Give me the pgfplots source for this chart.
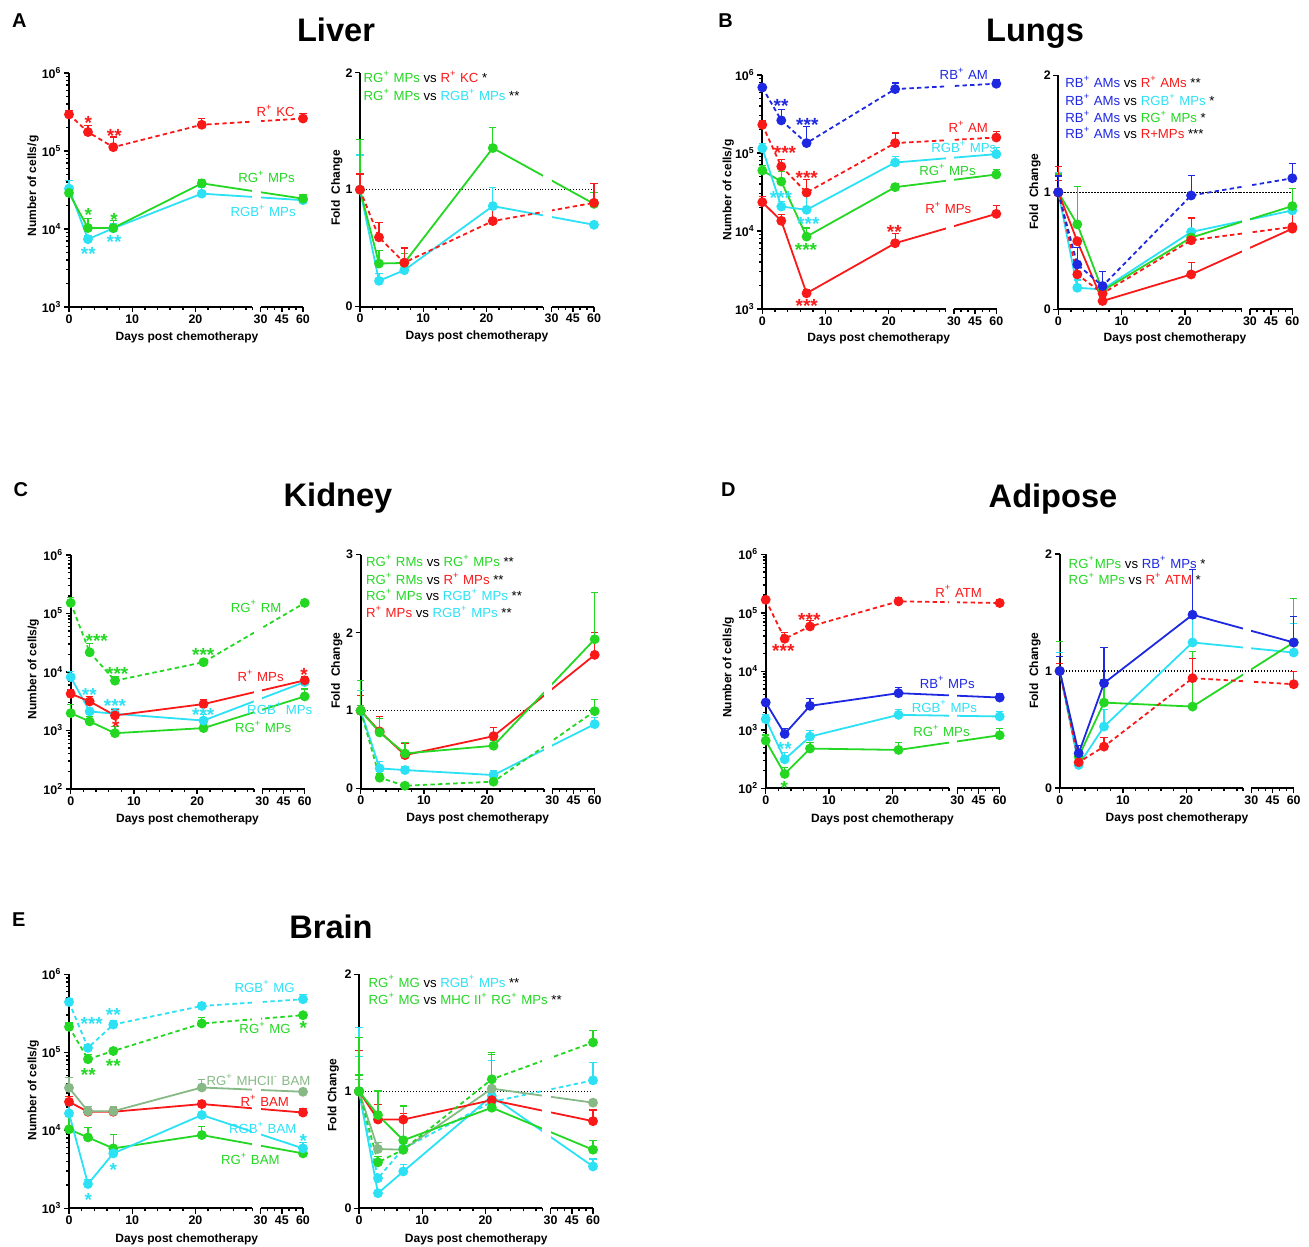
\documentclass[border=0pt]{standalone}
\usepackage{fontspec}
\setmainfont{Liberation Sans}
\usepackage{pgfplots}
\pgfplotsset{compat=1.18}
\definecolor{cR}{RGB}{250,25,25}
\definecolor{cG}{RGB}{35,215,35}
\definecolor{cC}{RGB}{45,225,245}
\definecolor{cB}{RGB}{30,40,225}
\definecolor{cS}{RGB}{135,185,135}
\newcommand\tickf{\fontsize{6.2}{7}\selectfont\bfseries}
\newcommand\labf{\fontsize{6}{7}\selectfont\bfseries}
\newcommand\serf{\fontsize{6.6}{7.5}\selectfont}
\newcommand\astf{\fontsize{9.5}{10}\selectfont\bfseries}
\newcommand\titf{\fontsize{16.3}{18}\selectfont\bfseries}
\newcommand\letf{\fontsize{10}{12}\selectfont\bfseries}
\newcommand\p{\textsuperscript{+}}
\newcommand\gapx{%
\fill[white] (rel axis cs:0.7838,0.004) rectangle (rel axis cs:0.8189,1.01);
\draw[line width=0.9pt] (rel axis cs:-0.002,0) -- (rel axis cs:0.7838,0);
\draw[line width=0.9pt] (rel axis cs:0.8189,0) -- (rel axis cs:1.002,0);}
\newcommand\dotl{\draw[black, line width=0.6pt, dash pattern=on 0.6pt off 0.9pt] (axis cs:0,1) -- (axis cs:37,1);}
\newcommand\dotg{\draw[black, line width=0.6pt, dash pattern=on 0.6pt off 0.9pt] (axis cs:28.8,1) -- (axis cs:30.5,1);}
\pgfplotsset{
 pbase/.style={/pgfplots/scale only axis, /pgfplots/width=117pt, /pgfplots/height=117pt,
   /pgfplots/xmin=0, /pgfplots/xmax=37, /pgfplots/clip=false,
   /pgfplots/axis x line*=bottom, /pgfplots/axis y line*=left,
   /pgfplots/x axis line style={draw=none}, /pgfplots/y axis line style={line width=0.9pt,-},
   /pgfplots/tick align=outside, /pgfplots/major tick length=2.6pt, /pgfplots/minor tick length=1.5pt,
   /pgfplots/tick style={black, line width=0.7pt},
   /pgfplots/xtick={0,10,20,30.3,33.65,37}, /pgfplots/xticklabels={0,10,20,30,45,60},
   /pgfplots/minor xtick={2,4,6,8,12,14,16,18,22,24,26,28,29,31.42,32.53,34.77,35.88},
   /pgfplots/xticklabel style={font=\tickf, inner sep=1pt},
   /pgfplots/yticklabel style={font=\tickf, inner sep=1pt}},
 sl/.style={/pgfplots/error bars/y dir=plus, /pgfplots/error bars/y explicit,
   /pgfplots/error bars/error bar style={solid, line width=0.6pt},
   /pgfplots/error bars/error mark options={rotate=90, solid, line width=0.6pt, mark size=1.8pt},
   mark=*, mark size=2pt, mark options={solid}, line width=0.9pt},
 dl/.style={sl, dash pattern=on 2.2pt off 1.6pt},
}
\tikzset{
 lab/.style={anchor=base east, font=\serf, inner sep=0pt},
 cmp/.style={anchor=base west, font=\serf, inner sep=0pt},
 ast/.style={anchor=base, font=\astf, inner sep=0pt, yshift=-5.6pt},
 yl/.style={rotate=90, font=\labf, inner sep=0pt},
 xl/.style={font=\labf, inner sep=0pt},
 tit/.style={anchor=base, font=\titf, inner sep=0pt},
 let/.style={anchor=base west, font=\letf, inner sep=0pt},
}
\begin{document}
\begin{tikzpicture}
\path[use as bounding box] (0,0) rectangle (654.5pt,-623pt);
% ---------------- Liver left
\begin{axis}[at={(34.5pt,-153.5pt)}, anchor=south west, ymode=log, ymin=1e3, ymax=1e6,
   ytick={1e3,1e4,1e5,1e6},
   yticklabels={10\textsuperscript{3},10\textsuperscript{4},10\textsuperscript{5},10\textsuperscript{6}},
   minor ytick={2e3,3e3,4e3,5e3,6e3,7e3,8e3,9e3,2e4,3e4,4e4,5e4,6e4,7e4,8e4,9e4,2e5,3e5,4e5,5e5,6e5,7e5,8e5,9e5}, pbase]
\addplot[sl,color=cC] coordinates {(0,3.30e4) +- (0,0.9e4) (3,7.4e3) +- (0,0.9e3) (7,1.02e4) +- (0,0.15e4) (21,2.84e4) +- (0,0.6e4) (37,2.34e4) +- (0,0.2e4)};
\addplot[sl,color=cG] coordinates {(0,2.90e4) +- (0,0.42e4) (3,1.03e4) +- (0,0.33e4) (7,1.03e4) +- (0,0.26e4) (21,3.85e4) +- (0,0.48e4) (37,2.45e4) +- (0,0.34e4)};
\addplot[dl,color=cR] coordinates {(0,2.94e5) +- (0,0.36e5) (3,1.75e5) +- (0,0.37e5) (7,1.12e5) +- (0,0.39e5) (21,2.17e5) +- (0,0.42e5) (37,2.61e5) +- (0,0.44e5)};
\gapx
\end{axis}
% ---------------- Liver right
\begin{axis}[at={(180pt,-153.35pt)}, anchor=south west, ymin=0, ymax=2, ytick={0,1,2}, yticklabels={0,1,2}, pbase]
\dotl
\addplot[sl,color=cC] coordinates {(0,1) +- (0,0.297) (3,0.221) +- (0,0.063) (7,0.312) +- (0,0.02) (21,0.86) +- (0,0.16) (37,0.70) +- (0,0.02)};
\addplot[sl,color=cG] coordinates {(0,1) +- (0,0.427) (3,0.369) +- (0,0.108) (7,0.374) +- (0,0.08) (21,1.356) +- (0,0.176) (37,0.879) +- (0,0.094)};
\addplot[dl,color=cR] coordinates {(0,1) +- (0,0.135) (3,0.593) +- (0,0.13) (7,0.377) +- (0,0.125) (21,0.732) +- (0,0.147) (37,0.888) +- (0,0.162)};
\gapx
\dotg
\end{axis}
% ---------------- Lungs left
\begin{axis}[at={(381.15pt,-154.5pt)}, anchor=south west, ymode=log, ymin=1e3, ymax=1e6,
   ytick={1e3,1e4,1e5,1e6},
   yticklabels={10\textsuperscript{3},10\textsuperscript{4},10\textsuperscript{5},10\textsuperscript{6}},
   minor ytick={2e3,3e3,4e3,5e3,6e3,7e3,8e3,9e3,2e4,3e4,4e4,5e4,6e4,7e4,8e4,9e4,2e5,3e5,4e5,5e5,6e5,7e5,8e5,9e5}, pbase]
\addplot[sl,color=cR] coordinates {(0,2.34e4) +- (0,0.43e4) (3,1.35e4) +- (0,0.29e4) (7,1.59e3) +- (0,0.2e3) (21,6.97e3) +- (0,2.39e3) (37,1.66e4) +- (0,0.46e4)};
\addplot[sl,color=cG] coordinates {(0,5.97e4) +- (0,0.95e4) (3,4.31e4) +- (0,1.48e4) (7,8.48e3) +- (0,2.42e3) (21,3.65e4) +- (0,0.45e4) (37,5.3e4) +- (0,0.91e4)};
\addplot[sl,color=cC] coordinates {(0,1.15e5) +- (0,0.16e5) (3,2.06e4) +- (0,0.33e4) (7,1.87e4) +- (0,1.04e4) (21,7.55e4) +- (0,1.48e4) (37,9.67e4) +- (0,2.23e4)};
\addplot[dl,color=cR] coordinates {(0,2.30e5) +- (0,0.27e5) (3,6.71e4) +- (0,1.63e4) (7,3.11e4) +- (0,1.42e4) (21,1.34e5) +- (0,0.46e5) (37,1.58e5) +- (0,0.31e5)};
\addplot[dl,color=cB] coordinates {(0,6.93e5) +- (0,0.6e5) (3,2.62e5) +- (0,0.97e5) (7,1.34e5) +- (0,0.85e5) (21,6.6e5) +- (0,1.3e5) (37,7.73e5) +- (0,0.97e5)};
\gapx
\end{axis}
% ---------------- Lungs right
\begin{axis}[at={(529.15pt,-154.65pt)}, anchor=south west, ymin=0, ymax=2, ytick={0,1,2}, yticklabels={0,1,2}, pbase]
\dotl
\addplot[sl,color=cC] coordinates {(0,1) +- (0,0.17) (3,0.184) +- (0,0.066) (7,0.17) +- (0,0.01) (21,0.661) +- (0,0.122) (37,0.845) +- (0,0.043)};
\addplot[sl,color=cG] coordinates {(0,1) +- (0,0.157) (3,0.726) +- (0,0.324) (7,0.159) +- (0,0.01) (21,0.613) +- (0,0.062) (37,0.882) +- (0,0.148)};
\addplot[sl,color=cR] coordinates {(0,1) +- (0,0.1) (3,0.582) +- (0,0.02) (7,0.071) +- (0,0.01) (21,0.298) +- (0,0.099) (37,0.689) +- (0,0.141)};
\addplot[dl,color=cR] coordinates {(0,1) +- (0,0.22) (3,0.298) +- (0,0.065) (7,0.136) +- (0,0.02) (21,0.59) +- (0,0.19) (37,0.704) +- (0,0.126)};
\addplot[dl,color=cB] coordinates {(0,1) +- (0,0.14) (3,0.383) +- (0,0.145) (7,0.199) +- (0,0.121) (21,0.973) +- (0,0.17) (37,1.12) +- (0,0.128)};
\gapx
\dotg
\end{axis}
% ---------------- Kidney left
\begin{axis}[at={(35.35pt,-394.5pt)}, anchor=south west, ymode=log, ymin=1e2, ymax=1e6,
   ytick={1e2,1e3,1e4,1e5,1e6},
   yticklabels={10\textsuperscript{2},10\textsuperscript{3},10\textsuperscript{4},10\textsuperscript{5},10\textsuperscript{6}},
   minor ytick={2e2,3e2,4e2,5e2,6e2,7e2,8e2,9e2,2e3,3e3,4e3,5e3,6e3,7e3,8e3,9e3,2e4,3e4,4e4,5e4,6e4,7e4,8e4,9e4,2e5,3e5,4e5,5e5,6e5,7e5,8e5,9e5}, pbase]
\addplot[sl,color=cG] coordinates {(0,1.98e3) +- (0,0.78e3) (3,1.43e3) +- (0,0.31e3) (7,9.0e2) +- (0,2.7e2) (21,1.10e3) +- (0,0.15e3) (37,3.83e3) +- (0,1.28e3)};
\addplot[sl,color=cC] coordinates {(0,8.2e3) +- (0,2.1e3) (3,2.12e3) +- (0,0.2e3) (7,1.93e3) +- (0,0.45e3) (21,1.48e3) +- (0,0.38e3) (37,6.74e3) +- (0,0.85e3)};
\addplot[sl,color=cR] coordinates {(0,4.25e3) +- (0,0.73e3) (3,3.14e3) +- (0,0.69e3) (7,1.81e3) +- (0,0.51e3) (21,2.83e3) +- (0,0.53e3) (37,7.2e3) +- (0,1.23e3)};
\addplot[dl,color=cG] coordinates {(0,1.52e5) +- (0,0.34e5) (3,2.17e4) +- (0,0.89e4) (7,7.1e3) +- (0,1.33e3) (21,1.47e4) +- (0,0.16e4) (37,1.52e5) +- (0,0.22e5)};
\gapx
\end{axis}
% ---------------- Kidney right
\begin{axis}[at={(180.35pt,-394.35pt)}, anchor=south west, ymin=0, ymax=3, ytick={0,1,2,3}, yticklabels={0,1,2,3}, pbase]
\dotl
\addplot[sl,color=cC] coordinates {(0,1) +- (0,0.255) (3,0.26) +- (0,0.086) (7,0.239) +- (0,0.04) (21,0.175) +- (0,0.055) (37,0.828) +- (0,0.09)};
\addplot[dl,color=cG] coordinates {(0,1) +- (0,0.07) (3,0.141) +- (0,0.047) (7,0.038) +- (0,0.01) (21,0.09) +- (0,0.02) (37,0.994) +- (0,0.15)};
\addplot[sl,color=cR] coordinates {(0,1) +- (0,0.2) (3,0.734) +- (0,0.19) (7,0.431) +- (0,0.15) (21,0.674) +- (0,0.11) (37,1.716) +- (0,0.29)};
\addplot[sl,color=cG] coordinates {(0,1) +- (0,0.383) (3,0.721) +- (0,0.18) (7,0.452) +- (0,0.137) (21,0.551) +- (0,0.07) (37,1.916) +- (0,0.6)};
\gapx
\dotg
\end{axis}
% ---------------- Adipose left
\begin{axis}[at={(382.85pt,-394.15pt)}, anchor=south west, ymode=log, ymin=1e2, ymax=1e6,
   ytick={1e2,1e3,1e4,1e5,1e6},
   yticklabels={10\textsuperscript{2},10\textsuperscript{3},10\textsuperscript{4},10\textsuperscript{5},10\textsuperscript{6}},
   minor ytick={2e2,3e2,4e2,5e2,6e2,7e2,8e2,9e2,2e3,3e3,4e3,5e3,6e3,7e3,8e3,9e3,2e4,3e4,4e4,5e4,6e4,7e4,8e4,9e4,2e5,3e5,4e5,5e5,6e5,7e5,8e5,9e5}, pbase]
\addplot[sl,color=cG] coordinates {(0,6.55e2) +- (0,1.63e2) (3,1.76e2) +- (0,0.5e2) (7,4.78e2) +- (0,1.27e2) (21,4.53e2) +- (0,1.52e2) (37,8.08e2) +- (0,2.52e2)};
\addplot[sl,color=cC] coordinates {(0,1.52e3) +- (0,0.28e3) (3,3.13e2) +- (0,0.95e2) (7,7.66e2) +- (0,2.04e2) (21,1.8e3) +- (0,0.39e3) (37,1.69e3) +- (0,0.36e3)};
\addplot[sl,color=cB] coordinates {(0,2.93e3) +- (0,0.32e3) (3,8.51e2) +- (0,2.1e2) (7,2.57e3) +- (0,0.9e3) (21,4.23e3) +- (0,1.13e3) (37,3.56e3) +- (0,0.67e3)};
\addplot[dl,color=cR] coordinates {(0,1.67e5) +- (0,0.15e5) (3,3.6e4) +- (0,1.02e4) (7,5.85e4) +- (0,1.56e4) (21,1.57e5) +- (0,0.27e5) (37,1.47e5) +- (0,0.2e5)};
\gapx
\end{axis}
% ---------------- Adipose right
\begin{axis}[at={(529.85pt,-394pt)}, anchor=south west, ymin=0, ymax=2, ytick={0,1,2}, yticklabels={0,1,2}, pbase]
\dotl
\addplot[sl,color=cC] coordinates {(0,1) +- (0,0.158) (3,0.197) +- (0,0.071) (7,0.525) +- (0,0.143) (21,1.244) +- (0,0.208) (37,1.158) +- (0,0.246)};
\addplot[sl,color=cG] coordinates {(0,1) +- (0,0.25) (3,0.268) +- (0,0.03) (7,0.73) +- (0,0.194) (21,0.696) +- (0,0.471) (37,1.244) +- (0,0.376)};
\addplot[dl,color=cR] coordinates {(0,1) +- (0,0.067) (3,0.22) +- (0,0.02) (7,0.354) +- (0,0.08) (21,0.939) +- (0,0.171) (37,0.887) +- (0,0.109)};
\addplot[sl,color=cB] coordinates {(0,1) +- (0,0.124) (3,0.297) +- (0,0.063) (7,0.896) +- (0,0.308) (21,1.481) +- (0,0.385) (37,1.244) +- (0,0.222)};
\gapx
\dotg
\end{axis}
% ---------------- Brain left
\begin{axis}[at={(34.5pt,-604.15pt)}, anchor=south west, ymode=log, ymin=1e3, ymax=1e6,
   ytick={1e3,1e4,1e5,1e6},
   yticklabels={10\textsuperscript{3},10\textsuperscript{4},10\textsuperscript{5},10\textsuperscript{6}},
   minor ytick={2e3,3e3,4e3,5e3,6e3,7e3,8e3,9e3,2e4,3e4,4e4,5e4,6e4,7e4,8e4,9e4,2e5,3e5,4e5,5e5,6e5,7e5,8e5,9e5}, pbase]
\addplot[sl,color=cG] coordinates {(0,1.03e4) +- (0,0.46e4) (3,8.11e3) +- (0,2.69e3) (7,5.87e3) +- (0,2.99e3) (21,8.69e3) +- (0,2.41e3) (37,5.06e3) +- (0,0.63e3)};
\addplot[sl,color=cC] coordinates {(0,1.65e4) +- (0,0.45e4) (3,2.05e3) +- (0,0.3e3) (7,5.06e3) +- (0,0.5e3) (21,1.57e4) +- (0,0.64e4) (37,5.87e3) +- (0,1.06e3)};
\addplot[sl,color=cR] coordinates {(0,2.32e4) +- (0,0.37e4) (3,1.73e4) +- (0,0.27e4) (7,1.73e4) +- (0,0.2e4) (21,2.17e4) +- (0,0.27e4) (37,1.69e4) +- (0,0.22e4)};
\addplot[sl,color=cS] coordinates {(0,3.51e4) +- (0,1.2e4) (3,1.76e4) +- (0,0.24e4) (7,1.76e4) +- (0,0.24e4) (21,3.54e4) +- (0,0.99e4) (37,3.12e4) +- (0,0.1e4)};
\addplot[dl,color=cG] coordinates {(0,2.12e5) +- (0,0.26e5) (3,8.16e4) +- (0,1.3e4) (7,1.04e5) +- (0,0.05e5) (21,2.34e5) +- (0,0.45e5) (37,2.99e5) +- (0,0.1e5)};
\addplot[dl,color=cC] coordinates {(0,4.42e5) +- (0,0.46e5) (3,1.14e5) +- (0,0.13e5) (7,2.27e5) +- (0,0.26e5) (21,3.93e5) +- (0,0.37e5) (37,4.79e5) +- (0,0.71e5)};
\gapx
\end{axis}
% ---------------- Brain right
\begin{axis}[at={(179.5pt,-604.15pt)}, anchor=south west, ymin=0, ymax=2, ytick={0,1,2}, yticklabels={0,1,2}, pbase]
\dotl
\addplot[sl,color=cC] coordinates {(0,1) +- (0,0.3) (3,0.129) +- (0,0.02) (7,0.315) +- (0,0.057) (21,0.96) +- (0,0.3) (37,0.358) +- (0,0.063)};
\addplot[dl,color=cC] coordinates {(0,1) +- (0,0.547) (3,0.258) +- (0,0.03) (7,0.51) +- (0,0.03) (21,0.91) +- (0,0.05) (37,1.094) +- (0,0.152)};
\addplot[sl,color=cS] coordinates {(0,1) +- (0,0.1) (3,0.507) +- (0,0.053) (7,0.501) +- (0,0.03) (21,1.023) +- (0,0.05) (37,0.903) +- (0,0.02)};
\addplot[sl,color=cR] coordinates {(0,1) +- (0,0.347) (3,0.759) +- (0,0.129) (7,0.759) +- (0,0.051) (21,0.925) +- (0,0.065) (37,0.745) +- (0,0.095)};
\addplot[sl,color=cG] coordinates {(0,1) +- (0,0.14) (3,0.797) +- (0,0.206) (7,0.582) +- (0,0.292) (21,0.86) +- (0,0.472) (37,0.501) +- (0,0.081)};
\addplot[dl,color=cG] coordinates {(0,1) +- (0,0.46) (3,0.393) +- (0,0.05) (7,0.501) +- (0,0.05) (21,1.103) +- (0,0.215) (37,1.418) +- (0,0.101)};
\gapx
\dotg
\end{axis}
% ---------------- annotations (pixel coordinates)
\begin{scope}[x=0.5pt,y=-0.5pt]
\node[let] at (11.7,27.3) {A};
\node[let] at (718,27.3) {B};
\node[let] at (13.3,496) {C};
\node[let] at (720.7,496) {D};
\node[let] at (11.7,926.7) {E};
\node[tit] at (336,41.7) {Liver};
\node[tit] at (1035,41.7) {Lungs};
\node[tit] at (338,506.7) {Kidney};
\node[tit] at (1053,507.3) {Adipose};
\node[tit] at (331,938.3) {Brain};
% axis labels
\node[yl] at (33,186) {Number of cells/g};
\node[xl] at (187,337.3) {Days post chemotherapy};
\node[yl] at (336.7,188) {Fold\ \ Change};
\node[xl] at (477,336.7) {Days post chemotherapy};
\node[yl] at (728.3,190) {Number of cells/g};
\node[xl] at (878.8,338.3) {Days post chemotherapy};
\node[yl] at (1035,191.7) {Fold\ \ Change};
\node[xl] at (1175,338.3) {Days post chemotherapy};
\node[yl] at (33.3,669) {Number of cells/g};
\node[xl] at (187.5,819.3) {Days post chemotherapy};
\node[yl] at (336.7,670.8) {Fold\ \ Change};
\node[xl] at (477.8,818.3) {Days post chemotherapy};
\node[yl] at (728.3,667.5) {Number of cells/g};
\node[xl] at (882.5,819.3) {Days post chemotherapy};
\node[yl] at (1035,670.8) {Fold\ \ Change};
\node[xl] at (1177,818.3) {Days post chemotherapy};
\node[yl] at (33.3,1090) {Number of cells/g};
\node[xl] at (186.7,1239.3) {Days post chemotherapy};
\node[yl] at (333.3,1095) {Fold Change};
\node[xl] at (476.3,1239.3) {Days post chemotherapy};
% Liver series labels
\node[lab,text=cR] at (295,116.4) {R\p{} KC};
\node[lab,text=cG] at (295,182.4) {RG\p{} MPs};
\node[lab,text=cC] at (296,216.4) {RGB\p{} MPs};
\node[ast,text=cR] at (88.3,118.3) {*};
\node[ast,text=cR] at (114.3,131.7) {**};
\node[ast,text=cG] at (88.3,210.7) {*};
\node[ast,text=cG] at (114,215.7) {*};
\node[ast,text=cC] at (88.3,249.3) {**};
\node[ast,text=cC] at (114,237.7) {**};
\node[cmp] at (363.3,83) {\textcolor{cG}{RG\p{} MPs} vs \textcolor{cR}{R\p{} KC} *};
\node[cmp] at (363.3,100.7) {\textcolor{cG}{RG\p{} MPs} vs \textcolor{cC}{RGB\p{} MPs} **};
% Lungs
\node[lab,text=cB] at (988.3,79.7) {RB\p{} AM};
\node[lab,text=cR] at (988.3,133) {R\p{} AM};
\node[lab,text=cC] at (996.7,153) {RGB\p{} MPs};
\node[lab,text=cG] at (976,175.7) {RG\p{} MPs};
\node[lab,text=cR] at (971.7,213.7) {R\p{} MPs};
\node[ast,text=cB] at (781,101.7) {**};
\node[ast,text=cB] at (807.3,120.7) {***};
\node[ast,text=cR] at (785,148.3) {***};
\node[ast,text=cR] at (806.7,173.3) {***};
\node[ast,text=cC] at (781,193.3) {***};
\node[ast,text=cC] at (808.3,219) {***};
\node[ast,text=cG] at (806,245.7) {***};
\node[ast,text=cR] at (806.7,301.7) {***};
\node[ast,text=cR] at (894.3,227.7) {**};
\node[cmp] at (1065,88) {\textcolor{cB}{RB\p{} AMs} vs \textcolor{cR}{R\p{} AMs} **};
\node[cmp] at (1065,105.7) {\textcolor{cB}{RB\p{} AMs} vs \textcolor{cC}{RGB\p{} MPs} *};
\node[cmp] at (1065,123) {\textcolor{cB}{RB\p{} AMs} vs \textcolor{cG}{RG\p{} MPs} *};
\node[cmp] at (1065,139) {\textcolor{cB}{RB\p{} AMs} vs \textcolor{cR}{R+MPs} ***};
% Kidney
\node[lab,text=cG] at (281.7,612) {RG\p{} RM};
\node[lab,text=cR] at (284,681.4) {R\p{} MPs};
\node[lab,text=cC] at (312.7,714) {RGB\p{} MPs};
\node[lab,text=cG] at (291.7,732.4) {RG\p{} MPs};
\node[ast,text=cG] at (96.7,636.7) {***};
\node[ast,text=cG] at (117.3,669.3) {***};
\node[ast,text=cG] at (203.3,650) {***};
\node[ast,text=cR] at (304,670) {*};
\node[ast,text=cC] at (89.3,690) {**};
\node[ast,text=cC] at (115,701) {***};
\node[ast,text=cR] at (115.7,722.3) {*};
\node[ast,text=cC] at (203.3,710.7) {***};
\node[cmp] at (365.7,566.4) {\textcolor{cG}{RG\p{} RMs} vs \textcolor{cG}{RG\p{} MPs} **};
\node[cmp] at (365.7,584.7) {\textcolor{cG}{RG\p{} RMs} vs \textcolor{cR}{R\p{} MPs} **};
\node[cmp] at (365.7,600.7) {\textcolor{cG}{RG\p{} MPs} vs \textcolor{cC}{RGB\p{} MPs} **};
\node[cmp] at (365.7,617.4) {\textcolor{cR}{R\p{} MPs} vs \textcolor{cC}{RGB\p{} MPs} **};
% Adipose
\node[lab,text=cR] at (982.3,597) {R\p{} ATM};
\node[lab,text=cB] at (975,688) {RB\p{} MPs};
\node[lab,text=cC] at (977.3,712) {RGB\p{} MPs};
\node[lab,text=cG] at (970,736.4) {RG\p{} MPs};
\node[ast,text=cR] at (809.3,615.7) {***};
\node[ast,text=cR] at (783.3,646) {***};
\node[ast,text=cC] at (784.3,744) {**};
\node[ast,text=cG] at (784.3,783.3) {*};
\node[cmp] at (1068.3,568) {\textcolor{cG}{RG\p{}MPs} vs \textcolor{cB}{RB\p{} MPs} *};
\node[cmp] at (1068.3,584.7) {\textcolor{cG}{RG\p{} MPs} vs \textcolor{cR}{R\p{} ATM} *};
% Brain
\node[lab,text=cC] at (295,992) {RGB\p{} MG};
\node[lab,text=cG] at (291,1033.7) {RG\p{} MG};
\node[lab,text=cS] at (310.7,1085.7) {RG\p{} MHCII\textsuperscript{-} BAM};
\node[lab,text=cR] at (289.3,1106.4) {R\p{} BAM};
\node[lab,text=cC] at (296.7,1133.7) {RGB\p{} BAM};
\node[lab,text=cG] at (280,1164.7) {RG\p{} BAM};
\node[ast,text=cC] at (91.7,1019.3) {***};
\node[ast,text=cC] at (113.3,1010) {**};
\node[ast,text=cG] at (88.3,1070) {**};
\node[ast,text=cG] at (113.3,1061.7) {**};
\node[ast,text=cG] at (303.3,1023.3) {*};
\node[ast,text=cC] at (113.3,1165.7) {*};
\node[ast,text=cC] at (88.3,1195) {*};
\node[ast,text=cC] at (303.3,1136) {*};
\node[cmp] at (368.3,987) {\textcolor{cG}{RG\p{} MG} vs \textcolor{cC}{RGB\p{} MPs} **};
\node[cmp] at (368.3,1004.7) {\textcolor{cG}{RG\p{} MG} vs \textcolor{cG}{MHC II\p{} RG\p{} MPs} **};
\end{scope}
\end{tikzpicture}
\end{document}
